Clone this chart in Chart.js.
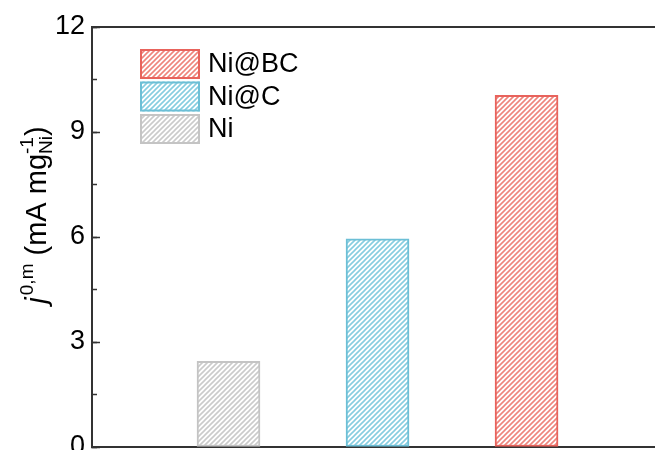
<!DOCTYPE html>
<html>
<head>
<meta charset="utf-8">
<script src="https://cdn.jsdelivr.net/npm/chart.js@4.4.0/dist/chart.umd.min.js"></script>
<style>
  html, body { margin: 0; padding: 0; background: #ffffff; }
  #wrap { width: 655px; height: 450px; position: relative; }
</style>
</head>
<body>
<div id="wrap"><canvas id="c"></canvas></div>
<script>
// Exchange current density per catalyst (mA per mg Ni)
const samples = ['Ni@BC', 'Ni@C', 'Ni'];
const positions = [3, 2, 1];
const currentDensity = [10.05, 5.95, 2.45];
const yTickLabels = [0, 3, 6, 9, 12];

const strokeColors = ['#E8635C', '#6CBFD6', '#C4C4C4'];
const hatchColors = ['#EE857D', '#86CDE0', '#CBCBCB'];

const FONT = '"Liberation Sans", Arial, sans-serif';
const TEXT_SIZE = 27;

// Diagonal "/" hatch fill on white
function hatch(color) {
  const s = 5;
  const c = document.createElement('canvas');
  c.width = s; c.height = s;
  const g = c.getContext('2d');
  g.fillStyle = '#ffffff';
  g.fillRect(0, 0, s, s);
  g.strokeStyle = color;
  g.lineWidth = 1.6;
  g.beginPath();
  g.moveTo(-1, s + 1); g.lineTo(s + 1, -1);
  g.moveTo(-1, 1); g.lineTo(1, -1);
  g.moveTo(s - 1, s + 1); g.lineTo(s + 1, s - 1);
  g.stroke();
  return g.createPattern(c, 'repeat');
}

const datasets = samples.map((name, i) => ({
  label: name,
  data: [{ x: positions[i], y: currentDensity[i] }],
  backgroundColor: hatch(hatchColors[i]),
  borderColor: strokeColors[i],
  borderWidth: 2,
  borderSkipped: false,
  barThickness: 63,
  grouped: false
}));

// Legend drawn inside the plot area, top-left
const insetLegend = {
  id: 'insetLegend',
  afterDatasetsDraw(chart) {
    const ctx = chart.ctx;
    const area = chart.chartArea;
    const x0 = area.left + 48, y0 = area.top + 22;
    const boxW = 60, boxH = 30, pitch = 32.5;
    chart.data.datasets.forEach((ds, i) => {
      const y = y0 + i * pitch;
      ctx.save();
      ctx.fillStyle = ds.backgroundColor;
      ctx.fillRect(x0, y, boxW, boxH);
      ctx.strokeStyle = ds.borderColor;
      ctx.lineWidth = 2;
      ctx.strokeRect(x0 + 1, y + 1, boxW - 2, boxH - 2);
      ctx.fillStyle = '#000000';
      ctx.font = TEXT_SIZE + 'px ' + FONT;
      ctx.textBaseline = 'middle';
      ctx.textAlign = 'left';
      ctx.fillText(ds.label, x0 + boxW + 8, y + boxH / 2 + 1);
      ctx.restore();
    });
  }
};

// Rotated y-axis title with super/subscripts: j^{0,m} (mA mg_Ni^-1)
const yTitle = {
  id: 'yTitle',
  afterDraw(chart) {
    const ctx = chart.ctx;
    const big = 29, small = 19;
    const parts = [
      { t: 'j', f: 'italic ' + big + 'px ' + FONT, dy: 0 },
      { t: '0,m', f: small + 'px ' + FONT, dy: -13, gap: 2 },
      { t: ' (mA mg', f: big + 'px ' + FONT, dy: 0 },
      { t: 'Ni', f: small + 'px ' + FONT, dy: 6, stack: 'start' },
      { t: '-1', f: small + 'px ' + FONT, dy: -13, stack: 'end' },
      { t: ')', f: big + 'px ' + FONT, dy: 0 }
    ];
    ctx.save();
    let total = 0, stackW = 0;
    parts.forEach(p => {
      ctx.font = p.f;
      p.w = ctx.measureText(p.t).width + (p.gap || 0);
      if (p.stack === 'start') { stackW = p.w; }
      else if (p.stack === 'end') { total += Math.max(stackW, p.w); }
      else { total += p.w; }
    });
    ctx.translate(46, 215);
    ctx.rotate(-Math.PI / 2);
    ctx.fillStyle = '#000000';
    ctx.textBaseline = 'alphabetic';
    ctx.textAlign = 'left';
    let x = -total / 2;
    parts.forEach(p => {
      ctx.font = p.f;
      ctx.fillText(p.t, x + (p.gap || 0), p.dy);
      if (p.stack === 'start') { stackW = p.w; }
      else if (p.stack === 'end') { x += Math.max(stackW, p.w); }
      else { x += p.w; }
    });
    ctx.restore();
  }
};

const axisColor = '#333333';

function flatHorizontal(height) {
  return (s) => { s.height = height; s.paddingLeft = 0; s.paddingRight = 0; };
}

new Chart(document.getElementById('c'), {
  type: 'bar',
  data: { datasets },
  options: {
    responsive: true,
    maintainAspectRatio: false,
    animation: false,
    layout: { padding: 0, autoPadding: false },
    plugins: {
      legend: { display: false },
      tooltip: { enabled: false }
    },
    scales: {
      x: {
        type: 'linear',
        position: 'bottom',
        offset: false,
        min: 0.084,
        max: 3.862,
        ticks: { display: false },
        grid: { display: true, offset: false, drawOnChartArea: false, drawTicks: false },
        border: { display: true, color: axisColor, width: 2 },
        afterFit: flatHorizontal(3)
      },
      xTop: {
        type: 'linear',
        position: 'top',
        offset: false,
        min: 0.084,
        max: 3.862,
        ticks: { display: false },
        grid: { display: true, offset: false, drawOnChartArea: false, drawTicks: false },
        border: { display: true, color: axisColor, width: 2 },
        afterFit: flatHorizontal(27)
      },
      y: {
        type: 'linear',
        position: 'left',
        weight: 1,
        min: 0,
        max: 12,
        ticks: {
          stepSize: 3,
          padding: 15,
          color: '#000000',
          font: { family: FONT, size: TEXT_SIZE },
          callback: (v) => yTickLabels.includes(v) ? String(v) : ''
        },
        grid: { drawOnChartArea: false, tickLength: -8, tickWidth: 1.5, tickColor: axisColor },
        border: { display: true, color: axisColor, width: 2 },
        afterFit(s) { s.width = 92; s.paddingTop = 0; s.paddingBottom = 0; }
      },
      yMinor: {
        type: 'linear',
        position: 'left',
        weight: 0,
        min: 0,
        max: 12,
        ticks: { stepSize: 1.5, display: false },
        grid: { drawOnChartArea: false, tickLength: -5, tickWidth: 1.5, tickColor: axisColor },
        border: { display: false },
        afterFit(s) { s.width = 0; s.paddingTop = 0; s.paddingBottom = 0; }
      }
    }
  },
  plugins: [insetLegend, yTitle]
});
</script>
</body>
</html>
